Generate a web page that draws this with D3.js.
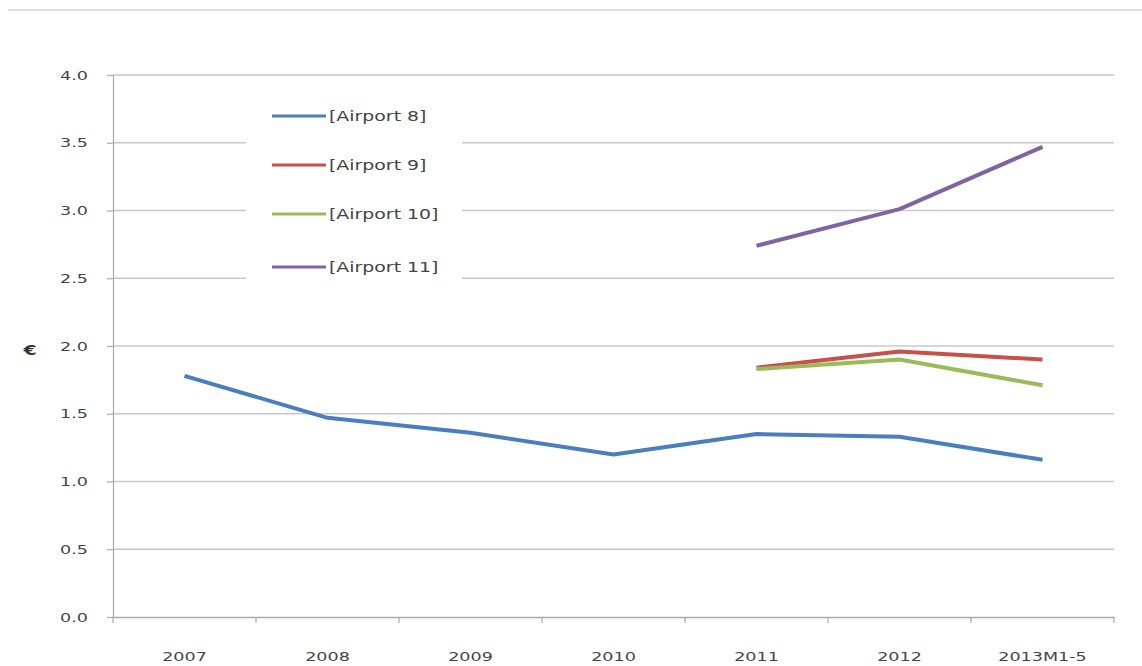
<!DOCTYPE html>
<html><head><meta charset="utf-8">
<script src="https://cdn.jsdelivr.net/npm/d3@7"></script>
<style>body{margin:0;background:#fff;font-family:"DejaVu Sans",sans-serif;}</style>
</head><body><svg id="c" width="1142" height="666"></svg>
<script>
const categories = ["2007","2008","2009","2010","2011","2012","2013M1-5"];
const airport8  = [1.78,1.47,1.36,1.20,1.35,1.33,1.16];
const airport9  = [null,null,null,null,1.84,1.96,1.90];
const airport10 = [null,null,null,null,1.83,1.90,1.71];
const airport11 = [null,null,null,null,2.74,3.01,3.47];
const seriesNames = ["[Airport 8]","[Airport 9]","[Airport 10]","[Airport 11]"];
const seriesColors = ["#4a7ebf","#c9504a","#9bbb59","#8064a2"];
const yTicks = [0,0.5,1,1.5,2,2.5,3,3.5,4];

const series = [airport8, airport9, airport10, airport11];
const SX = 1.35;
const svg = d3.select("#c");
const L=113, R=1114, T=75, B=617;
const x = d3.scaleBand().domain(categories).range([L,R]);
const y = d3.scaleLinear().domain([0,4]).range([B,T]);

// top rule
svg.append("line").attr("x1",8).attr("x2",1142).attr("y1",10).attr("y2",10)
  .attr("stroke","#e0e0e0").attr("stroke-width",2);

// gridlines
svg.append("g").selectAll("line").data(yTicks.filter(d=>d>0)).join("line")
  .attr("x1",L).attr("x2",R).attr("y1",d=>y(d)).attr("y2",d=>y(d))
  .attr("stroke","#c8c8c8").attr("stroke-width",1.5);

// y axis
const ya = svg.append("g").attr("transform",`translate(${L},0)`)
  .call(d3.axisLeft(y).tickValues(yTicks).tickFormat(d3.format(".1f")).tickSize(6).tickPadding(12.5));
ya.select(".domain").attr("stroke","#aaa").attr("stroke-width",1.2);
ya.selectAll(".tick line").attr("stroke","#aaa").attr("stroke-width",1.2);
ya.selectAll("text").attr("font-size",13).attr("fill","#444").attr("font-family","DejaVu Sans, sans-serif")
  .attr("transform",`scale(${SX},1)`);

// x axis
const xa = svg.append("g").attr("transform",`translate(0,${B})`)
  .call(d3.axisBottom(x).tickSize(0).tickPadding(35));
xa.select(".domain").attr("stroke","#aaa").attr("stroke-width",1.5);
xa.selectAll("text").attr("font-size",13).attr("fill","#444").attr("font-family","DejaVu Sans, sans-serif")
  .attr("transform",`scale(${SX},1)`);
// tick marks between categories
const bounds = categories.map(c=>x(c)).concat([R]);
svg.append("g").selectAll("line").data(bounds).join("line")
  .attr("x1",d=>d).attr("x2",d=>d).attr("y1",B).attr("y2",B+6)
  .attr("stroke","#aaa").attr("stroke-width",1.2);

// y label
svg.append("g").attr("transform","translate(30,355)")
  .append("text").attr("text-anchor","middle").attr("transform",`scale(${SX},1)`)
  .attr("font-size",14).attr("font-weight","bold").attr("fill","#333").text("€");

// legend background (covers gridlines)
svg.append("rect").attr("x",246).attr("y",95).attr("width",216).attr("height",195).attr("fill","#fff");
const legY = [116,165,214,267];
const lg = svg.append("g").selectAll("g").data(seriesNames).join("g")
  .attr("transform",(d,i)=>`translate(272,${legY[i]})`);
lg.append("line").attr("x1",0).attr("x2",54).attr("stroke",(d,i)=>seriesColors[i]).attr("stroke-width",3);
lg.append("g").attr("transform","translate(57,0)")
  .append("text").attr("y",5).attr("font-size",14).attr("fill","#444")
  .attr("transform",`scale(${SX},1)`)
  .attr("font-family","DejaVu Sans, sans-serif").text(d=>d);

// lines
const line = d3.line().defined(d=>d!=null)
  .x((d,i)=>x(categories[i])+x.bandwidth()/2).y(d=>y(d));
svg.append("g").selectAll("path").data([0,1,2,3]).join("path")
  .attr("d",i=>line(series[i])).attr("fill","none")
  .attr("stroke",i=>seriesColors[i]).attr("stroke-width",4).attr("stroke-linejoin","round");
</script></body></html>
